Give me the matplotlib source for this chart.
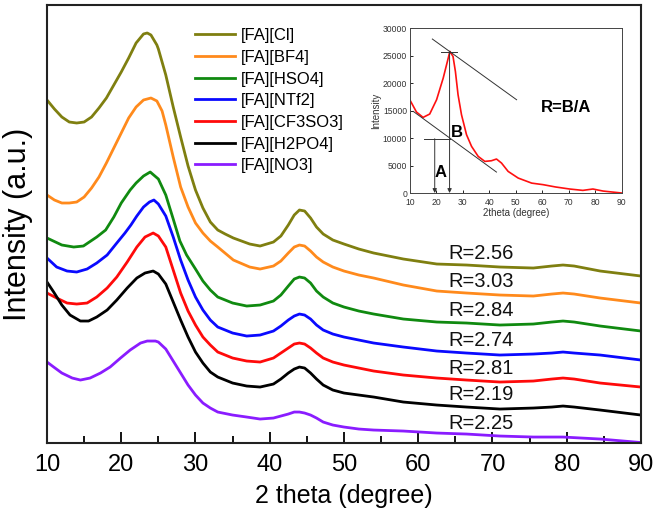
import matplotlib
matplotlib.use("Agg")
import matplotlib.pyplot as plt
from matplotlib.ticker import MultipleLocator

plt.rcParams['font.family'] = ['Liberation Sans', 'DejaVu Sans']

# ---------------- data ----------------
names = ["[FA][Cl]", "[FA][BF4]", "[FA][HSO4]", "[FA][NTf2]",
         "[FA][CF3SO3]", "[FA][H2PO4]", "[FA][NO3]"]
colors = ["#7f7f10", "#ff8a1c", "#108a10", "#0a0aff", "#ff0a0a", "#000000", "#8a1cff"]
r_values = ["R=2.56", "R=3.03", "R=2.84", "R=2.74", "R=2.81", "R=2.19", "R=2.25"]
r_label_y = [190, 162, 133, 103, 75, 49, 20]

cl_x = [10, 11, 12, 13, 14, 15, 16, 17, 18, 19, 20, 21, 22, 23, 23.5, 24, 24.8, 25, 26, 27, 28, 29, 30, 31, 32, 33, 34, 35.1, 37.3, 38.7, 40.5, 41.5, 42.5, 43.3, 44, 44.7, 45.5, 46.3, 47.2, 48.5, 50, 52, 54, 58, 62.5, 66.5, 71, 75.5, 78, 79.5, 81, 84.5, 90]
cl_y = [343, 334, 326, 321, 320, 321, 326, 335, 345, 358, 371, 385, 400, 409, 410, 408, 398, 394, 368, 336, 306, 277, 253, 235, 221, 213, 209, 205, 199, 197, 201, 207, 218, 228, 233, 232, 225, 216, 209, 203, 199, 194, 190, 184, 179, 178, 176, 175, 177, 178, 177, 172, 167]

bf4_x = [10, 11, 12, 13, 14, 15, 16, 17, 18, 19, 20, 21, 22, 23, 24, 24.8, 25.5, 26, 27, 28, 29, 30, 31, 32, 33, 35.1, 37.3, 38.7, 40.5, 41.5, 42.5, 43.3, 44, 44.7, 45.5, 46.3, 47.2, 48.5, 50, 52, 54, 58, 62.5, 66.5, 71, 75.5, 78, 79.5, 81, 84.5, 90]
bf4_y = [248, 243, 240, 240, 241, 246, 255, 266, 280, 295, 310, 325, 336, 343, 345, 342, 332, 318, 286, 256, 236, 220, 210, 202, 196, 183, 176, 174, 177, 182, 190, 196, 198, 197, 192, 186, 181, 176, 172, 168, 165, 158, 152, 150, 148, 147, 149, 150, 149, 145, 140]

hso4_x = [10, 12, 13.6, 14.9, 16.7, 17.9, 19, 20, 21.2, 22, 23, 23.9, 25, 26, 27, 27.9, 28.8, 30, 31, 32, 33, 35, 36.9, 38.7, 40.5, 41.5, 42.5, 43.3, 44, 44.7, 45.5, 46.3, 47.2, 48.5, 50, 52, 54, 58, 62.5, 66.5, 71, 75.5, 78, 79.5, 81, 84.5, 90]
hso4_y = [205, 198, 196, 197, 206, 213, 226, 240, 253, 260, 267, 271, 264, 248, 224, 202, 188, 174, 162, 153, 146, 140, 137, 138, 142, 148, 157, 164, 166, 165, 160, 152, 146, 140, 136, 132, 129, 124, 121, 120, 118, 119, 121, 122, 121, 117, 112]

ntf2_x = [10, 11.3, 12.7, 14, 15.4, 16.7, 18.1, 19.4, 20.5, 21.3, 22.1, 23, 23.8, 24.4, 25, 26, 27, 28, 29, 30, 31, 32, 33, 35, 36.9, 38.7, 40.5, 41.5, 42.5, 43.3, 44, 44.7, 45.5, 46.3, 47.2, 48.5, 50, 52, 54, 58, 62.5, 66.5, 71, 75.5, 78, 79.5, 81, 84.5, 90]
ntf2_y = [185, 176, 172, 171, 174, 180, 188, 200, 210, 218, 227, 236, 241, 243, 239, 227, 206, 183, 163, 146, 133, 123, 116, 110, 107, 108, 112, 117, 123, 127, 129, 128, 124, 118, 113, 109, 106, 103, 100, 96, 92, 90, 88, 89, 90, 91, 90, 88, 83]

cf3_x = [10, 11.3, 12.7, 14, 15.4, 16.7, 18.1, 19.4, 20.8, 22.1, 23.2, 24.3, 25, 26, 27, 28, 29, 30, 31, 32, 33, 35, 36.9, 38.7, 40.5, 41.5, 42.5, 43.3, 44, 44.7, 45.5, 46.3, 47.2, 48.5, 50, 52, 54, 58, 62.5, 66.5, 71, 75.5, 78, 79.5, 81, 84.5, 90]
cf3_y = [150, 145, 140, 139, 140, 146, 155, 166, 181, 196, 206, 210, 207, 196, 173, 150, 132, 118, 106, 98, 91, 85, 82, 81, 85, 90, 95, 99, 100, 99, 95, 90, 85, 81, 78, 75, 72, 68, 65, 63, 61, 62, 64, 65, 64, 60, 56]

h2po4_x = [10, 10.9, 12, 13.1, 14.5, 15.6, 16.7, 18.1, 19.4, 20.8, 22.1, 23.2, 24.3, 25, 26, 27, 28, 29, 30, 31, 32, 33, 35, 36.9, 38.7, 40.5, 41.5, 42.5, 43.3, 44, 44.7, 45.5, 46.3, 47.2, 48.5, 50, 52, 54, 58, 62.5, 66.5, 71, 75.5, 78, 79.5, 81, 84.5, 90]
h2po4_y = [161, 151, 138, 128, 122, 122, 126, 133, 143, 155, 165, 170, 172, 169, 159, 141, 123, 106, 91, 80, 71, 66, 60, 57, 56, 59, 64, 70, 74, 76, 75, 70, 64, 58, 53, 50, 48, 46, 41, 38, 36, 34, 35, 36, 37, 36, 33, 28]

no3_x = [10, 10.9, 12, 13.4, 14.5, 15.8, 17.2, 18.5, 19.9, 21.2, 22.6, 23.5, 24.6, 25, 26, 27, 28, 29, 30, 31, 32, 33, 35, 36.9, 38.7, 40.5, 41.5, 42.5, 43.3, 44, 44.7, 45.5, 46.3, 47.2, 48.5, 50, 52, 54, 58, 62.5, 66.5, 71, 75.5, 79.5, 84.5, 90]
no3_y = [81, 76, 70, 65, 63, 65, 70, 76, 85, 93, 100, 102, 102, 101, 94, 82, 70, 58, 48, 40, 35, 31, 28, 26, 24, 25, 27, 29, 31, 31, 30, 28, 25, 21, 18, 16, 14, 13, 12, 10, 9, 7, 6, 6, 4, 0.5]

series_x = [cl_x, bf4_x, hso4_x, ntf2_x, cf3_x, h2po4_x, no3_x]
series_y = [cl_y, bf4_y, hso4_y, ntf2_y, cf3_y, h2po4_y, no3_y]

# inset data
inset_x = [10, 12.5, 15, 17.5, 20.1, 22.6, 24.5, 25.1, 25.5, 26.3, 27.2, 28.2, 29.5, 31.4, 33.3, 35.8, 38.3, 40.8, 42.7, 44.6, 47.1, 50.9, 56, 60.3, 65, 70.3, 75.3, 79.1, 82.9, 86, 90]
inset_y = [16950, 14730, 13750, 14360, 16960, 20900, 24540, 25750, 25450, 24840, 22110, 17870, 14240, 10600, 8480, 6660, 5750, 5870, 6180, 5450, 3930, 2720, 1800, 1520, 1100, 730, 480, 730, 360, 200, 0]

# ---------------- figure ----------------
fig = plt.figure(figsize=(6.61, 5.20), dpi=100)
ax = fig.add_axes([0.0711, 0.148, 0.8986, 0.8424])

for xs, ys, c, n in zip(series_x, series_y, colors, names):
    ax.plot(xs, ys, color=c, lw=2.0, label=n, solid_joinstyle='round')

for txt, yy in zip(r_values, r_label_y):
    ax.text(64.0, yy, txt, fontsize=14.5, va='center', ha='left', color='#111111')

ax.set_xlim(10, 90)
ax.set_ylim(0, 438)
ax.set_yticks([])
ax.xaxis.set_major_locator(MultipleLocator(10))
ax.xaxis.set_minor_locator(MultipleLocator(5))
ax.tick_params(axis='x', which='major', direction='in', length=8, width=1.3,
               labelsize=17, pad=8, top=False)
ax.tick_params(axis='x', which='minor', direction='in', length=5, width=1.3, top=False)
for lab in ax.get_xticklabels():
    lab.set_family(['Liberation Sans Narrow', 'Liberation Sans'])
for s in ax.spines.values():
    s.set_linewidth(1.5)
    s.set_color('#222222')
ax.set_xlabel("2 theta (degree)", fontsize=18, labelpad=6)
ax.set_ylabel("Intensity (a.u.)", fontsize=22, labelpad=10)

leg = ax.legend(loc='upper left', bbox_to_anchor=(0.238, 0.962), frameon=False,
                fontsize=12, handlelength=2.4, handletextpad=0.35,
                labelspacing=0.40, borderaxespad=0)

# ---------------- inset ----------------
ins = fig.add_axes([0.620, 0.6288, 0.3207, 0.3173])
ins.plot(inset_x, inset_y, color='#ff1010', lw=1.2)
ins.set_xlim(10, 90)
ins.set_ylim(0, 30000)
ins.xaxis.set_major_locator(MultipleLocator(10))
ins.yaxis.set_major_locator(MultipleLocator(5000))
ins.tick_params(direction='in', length=2.5, width=0.6, labelsize=6.2, pad=2,
                labelcolor='#333333')
ins.tick_params(axis='x', pad=3.5)
for s in ins.spines.values():
    s.set_linewidth(0.7)
    s.set_color('#444444')
ins.set_xlabel("2theta (degree)", fontsize=7, labelpad=1, color='#333333')
ins.set_ylabel("Intensity", fontsize=7, labelpad=1, color='#333333')

lc = '#333333'
ins.plot([18.5, 50.3], [28000, 16960], color=lc, lw=0.7)
ins.plot([11.3, 42.7], [14840, 3810], color=lc, lw=0.7)
ins.plot([21.7, 27.7], [25700, 25700], color=lc, lw=0.7)
ins.plot([15.3, 25.0], [9870, 9870], color=lc, lw=0.7)
ins.annotate("", xy=(19.4, 0), xytext=(19.4, 9870),
             arrowprops=dict(arrowstyle='-|>', color=lc, lw=0.7, mutation_scale=6,
                             shrinkA=0, shrinkB=0))
ins.annotate("", xy=(25.0, 0), xytext=(25.0, 25700),
             arrowprops=dict(arrowstyle='-|>', color=lc, lw=0.7, mutation_scale=6,
                             shrinkA=0, shrinkB=0))
ins.text(21.6, 3780, "A", fontsize=12, fontweight='bold', ha='center', va='center')
ins.text(27.9, 11050, "B", fontsize=12, fontweight='bold', ha='center', va='center')
ins.text(68.8, 15640, "R=B/A", fontsize=12, fontweight='bold', ha='center', va='center')

fig.savefig("out.png", dpi=100)
